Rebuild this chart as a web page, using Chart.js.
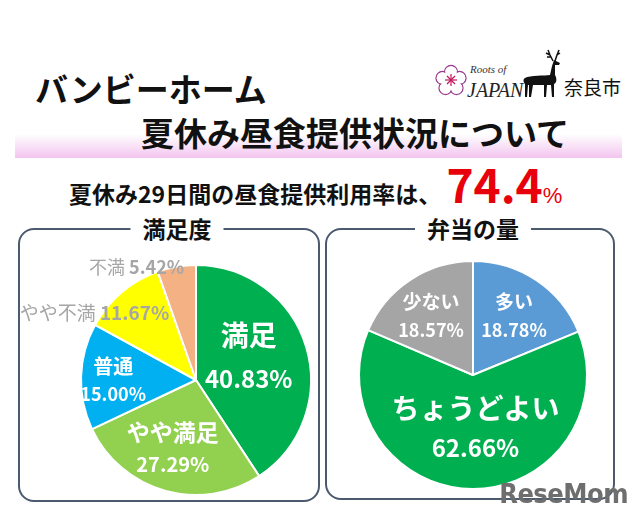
<!DOCTYPE html>
<html lang="ja">
<head>
<meta charset="utf-8">
<script src="https://cdn.jsdelivr.net/npm/chart.js@4.4.1/dist/chart.umd.min.js"></script>
<style>
  html, body { margin: 0; padding: 0; background: #fff; }
  body { width: 640px; height: 518px; position: relative; overflow: hidden;
         font-family: "Noto Sans CJK JP", sans-serif; color: #111; }
  .abs { position: absolute; white-space: nowrap; }
  #title1 { left: 35px; top: 70px; font-size: 33px; line-height: 36px; font-weight: 700; }
  #band { left: 15px; top: 134px; width: 607px; height: 24px;
          background: linear-gradient(to bottom, #ffffff, #f3c4ef); }
  #title2 { left: 141px; top: 114px; font-size: 33px; line-height: 36px; font-weight: 700; }
  #rate { left: 69px; top: 160px; font-size: 23px; line-height: 46px; font-weight: 700; }
  #rate .big { color: #e8000b; font-size: 46px; font-family: "Liberation Sans Narrow", "Noto Sans CJK JP", sans-serif; }
  #rate .pct { color: #e8000b; font-size: 22px; font-weight: 400; font-family: "Liberation Sans", sans-serif; }
  .panel { position: absolute; box-sizing: border-box; border: 2px solid #4b5a6e; border-radius: 16px; }
  .head { position: absolute; transform: translateX(-50%); background: #fff; padding: 0 12px;
          font-size: 23px; line-height: 28px; font-weight: 700; white-space: nowrap; }
  canvas { position: absolute; }
  #mark { right: 12px; top: 478px; font-family: "Liberation Sans Narrow", "DejaVu Sans Condensed", sans-serif;
          font-weight: 700; font-size: 27px; color: #6e6e6e; letter-spacing: -0.5px; }
</style>
</head>
<body>
<div id="title1" class="abs">バンビーホーム</div>
<div id="band" class="abs"></div>
<div id="title2" class="abs">夏休み昼食提供状況について</div>
<div id="rate" class="abs"></div>

<svg class="abs" style="left:430px; top:48px;" width="195" height="54" viewBox="0 0 195 54">
  <g fill="none" stroke="#9b3c8e" stroke-width="1.3">
    <circle cx="21" cy="24" r="6.5"/><circle cx="29.5" cy="30" r="6.5"/><circle cx="26.5" cy="40" r="6.5"/>
    <circle cx="15.5" cy="40" r="6.5"/><circle cx="12.5" cy="30" r="6.5"/>
  </g>
  <g fill="#fff">
    <circle cx="21" cy="24" r="5.8"/><circle cx="29.5" cy="30" r="5.8"/><circle cx="26.5" cy="40" r="5.8"/>
    <circle cx="15.5" cy="40" r="5.8"/><circle cx="12.5" cy="30" r="5.8"/><circle cx="21" cy="33" r="7"/>
  </g>
  <g stroke="#c2185b" stroke-width="1.2">
    <line x1="21" y1="26" x2="21" y2="38"/><line x1="15" y1="32" x2="27" y2="32"/>
    <line x1="17" y1="28" x2="25" y2="36"/><line x1="25" y1="28" x2="17" y2="36"/>
  </g>
  <text x="40" y="25" font-family="Liberation Serif" font-style="italic" font-size="11" fill="#333">Roots of</text>
  <text x="37" y="49" font-family="Liberation Serif" font-style="italic" font-size="20" fill="#222">JAPAN</text>
  <path fill="#111" d="M95,30 C100,27 115,28 120,27 L122,18 L124,12 L130,15 L129,17 L125,17 L125,27
    C127,30 127,35 124,36 L124,49 L122,49 L121,37 L117,37 L116,49 L114,49 L114,37 L103,37 L101,49 L99,49
    L99,37 L98,37 L97,49 L95,49 L95,36 C93,34 93,31 95,30 Z"/>
  <g stroke="#111" stroke-width="1.5" fill="none">
    <path d="M123,13 L120,7 L118,2 M120,7 L116,5 M121,9 L117,9"/>
    <path d="M125,13 L127,7 L129,2 M127,7 L130,5"/>
  </g>
  <text x="134" y="47" font-family="Noto Sans CJK JP" font-size="19" fill="#111">奈良市</text>
</svg>

<div class="panel" style="left:18px; top:228px; width:302px; height:274px;"></div>
<div class="panel" style="left:325px; top:228px; width:290px; height:272px;"></div>
<div class="head" id="head1" style="left:177px; top:214px;"></div>
<div class="head" id="head2" style="left:473px; top:214px;"></div>

<canvas id="satisfaction" width="325" height="270" style="left:0px; top:240px;"></canvas>
<canvas id="amount" width="290" height="260" style="left:325px; top:240px;"></canvas>

<div id="mark" class="abs">ReseMom</div>

<script>
const heading = 'バンビーホーム';
const subTitle = '夏休み昼食提供状況について';
const servingDays = 29;
const usageRate = 74.4;

const satisfactionTitle = '満足度';
const satisfactionLabels = ['満足', 'やや満足', '普通', 'やや不満', '不満'];
const satisfactionValues = [40.83, 27.29, 15.00, 11.67, 5.42];

const amountTitle = '弁当の量';
const amountLabels = ['多い', 'ちょうどよい', '少ない'];
const amountValues = [18.78, 62.66, 18.57];

// slice colours
const satisfactionColors = ['#00b050', '#92d050', '#00b0f0', '#ffff00', '#f4b183'];
const amountColors = ['#5b9bd5', '#00b050', '#a5a5a5'];

// label placement: f = fraction of radius, da = angle shift (deg)
const satisfactionLabelStyle = [
  { f: 0.50, da: -7, s1: 28, s2: 24, gap: 22, color: '#fff' },
  { f: 0.63, da: 3, s1: 23, s2: 20, gap: 16, color: '#fff' },
  { f: 0.72, da: -2, s1: 20, s2: 18, gap: 14, color: '#fff' },
  { f: 1.06, da: -16, s1: 19, s2: 19, inline: true, color: '#a6a6a6' },
  { f: 1.11, da: -18, s1: 18, s2: 18, inline: true, color: '#a6a6a6' }
];
const amountLabelStyle = [
  { f: 0.63, da: 1, s1: 19, s2: 18, gap: 14, color: '#fff' },
  { f: 0.465, da: -3, s1: 28, s2: 24, gap: 19.5, color: '#fff' },
  { f: 0.635, da: -2, s1: 19, s2: 18, gap: 14, color: '#fff' }
];

document.getElementById('rate').innerHTML =
  `夏休み${servingDays}日間の昼食提供利用率は、 <span class="big">${usageRate}</span><span class="pct">%</span>`;
document.getElementById('head1').textContent = satisfactionTitle;
document.getElementById('head2').textContent = amountTitle;

const FONT = '"Noto Sans CJK JP", sans-serif';

const sliceLabels = {
  id: 'sliceLabels',
  afterDatasetsDraw(chart, args, opts) {
    const ctx = chart.ctx;
    const meta = chart.getDatasetMeta(0);
    const values = chart.data.datasets[0].data;
    meta.data.forEach((arc, i) => {
      const st = opts.styles[i];
      const p = arc.getProps(['x', 'y', 'startAngle', 'endAngle', 'outerRadius'], true);
      const a = (p.startAngle + p.endAngle) / 2 + st.da * Math.PI / 180;
      const cx = p.x + Math.cos(a) * p.outerRadius * st.f;
      const cy = p.y + Math.sin(a) * p.outerRadius * st.f;
      const name = chart.data.labels[i];
      const pct = values[i].toFixed(2) + '%';
      ctx.save();
      ctx.fillStyle = st.color;
      ctx.textBaseline = 'middle';
      if (st.inline) {
        const f1 = `400 ${st.s1}px ${FONT}`;
        const f2 = `700 ${st.s2}px ${FONT}`;
        ctx.font = f1;
        const w1 = ctx.measureText(name + ' ').width;
        ctx.font = f2;
        const w2 = ctx.measureText(pct).width;
        let x = cx - (w1 + w2) / 2;
        ctx.textAlign = 'left';
        ctx.font = f1;
        ctx.fillText(name + ' ', x, cy);
        ctx.font = f2;
        ctx.fillText(pct, x + w1, cy);
      } else {
        ctx.textAlign = 'center';
        ctx.font = `700 ${st.s1}px ${FONT}`;
        ctx.fillText(name, cx, cy - st.gap);
        ctx.font = `700 ${st.s2}px ${FONT}`;
        ctx.fillText(pct, cx, cy + st.gap);
      }
      ctx.restore();
    });
  }
};

function makePie(id, labels, values, colors, styles, padding) {
  return new Chart(document.getElementById(id), {
    type: 'pie',
    data: {
      labels: labels,
      datasets: [{
        data: values,
        backgroundColor: colors,
        borderColor: '#ffffff',
        borderWidth: 2
      }]
    },
    options: {
      responsive: false,
      animation: false,
      layout: { padding: padding },
      plugins: {
        legend: { display: false },
        tooltip: { enabled: false },
        sliceLabels: { styles: styles }
      }
    },
    plugins: [sliceLabels]
  });
}

makePie('satisfaction', satisfactionLabels, satisfactionValues, satisfactionColors,
  satisfactionLabelStyle, { left: 80, right: 13, top: 24, bottom: 14 });
makePie('amount', amountLabels, amountValues, amountColors,
  amountLabelStyle, { left: 33, right: 27, top: 20, bottom: 10 });
</script>
</body>
</html>
